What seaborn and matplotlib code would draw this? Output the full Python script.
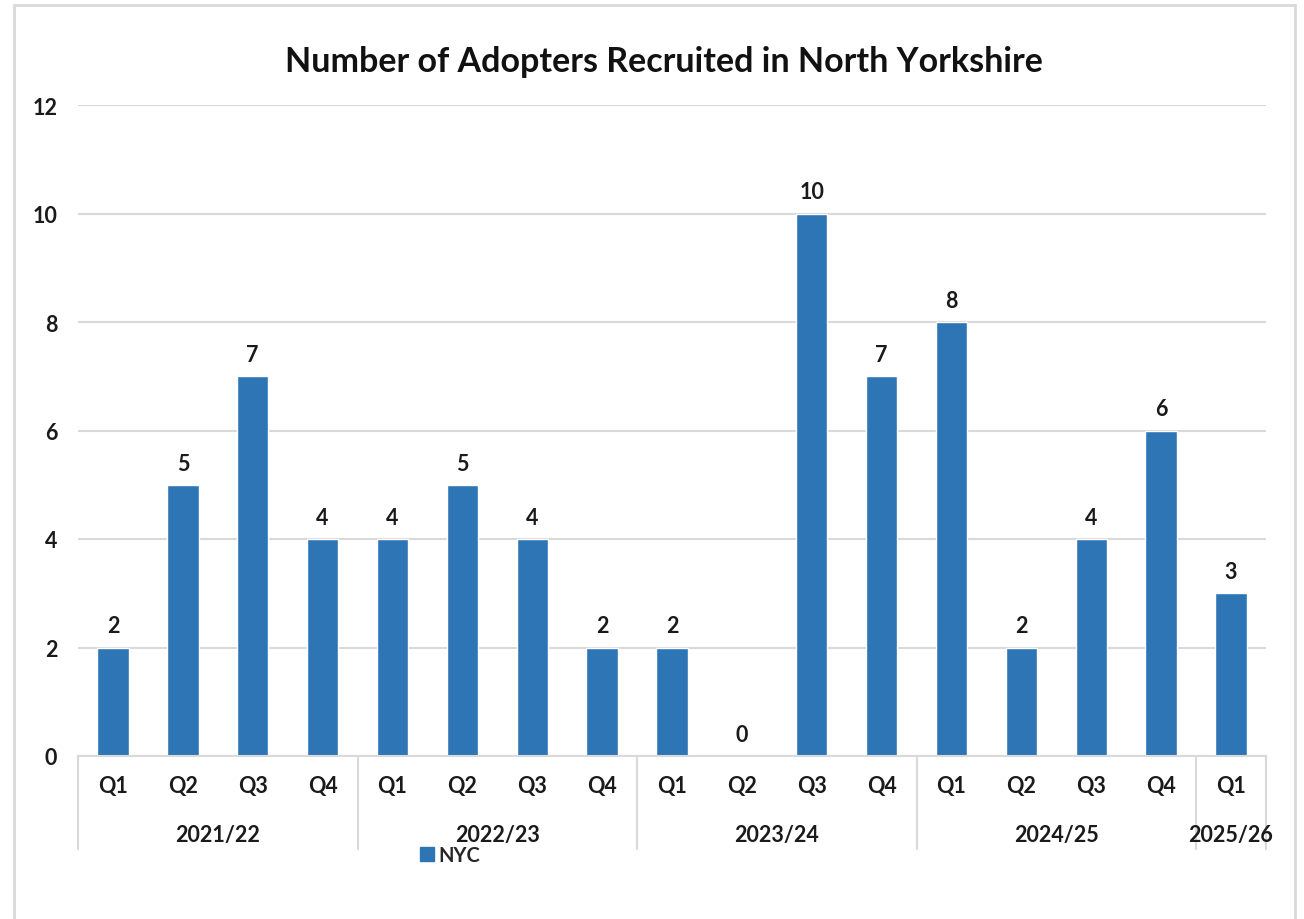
import pandas as pd
import matplotlib.pyplot as plt
import seaborn as sns
from matplotlib.patches import Rectangle, Patch
from matplotlib.transforms import blended_transform_factory

# data
years = ['2021/22', '2022/23', '2023/24', '2024/25', '2025/26']
quarters_per_year = [4, 4, 4, 4, 1]
quarters = ['Q1', 'Q2', 'Q3', 'Q4'] * 4 + ['Q1']
adopters = [2, 5, 7, 4, 4, 5, 4, 2, 2, 0, 10, 7, 8, 2, 4, 6, 3]

periods = []
for y, n in zip(years, quarters_per_year):
    for q in ['Q1', 'Q2', 'Q3', 'Q4'][:n]:
        periods.append(f'{y} {q}')

df = pd.DataFrame({'period': periods, 'quarter': quarters, 'NYC': adopters})

sns.set_style('white')
plt.rcParams['font.family'] = ['Lato', 'DejaVu Sans']
plt.rcParams['font.weight'] = 'bold'

bar_color = '#2E75B6'
grid_color = '#D9D9D9'
text_color = '#1a1a1a'
fs = 15.5

fig = plt.figure(figsize=(13.04, 9.2), dpi=100)
ax = fig.add_axes([78 / 1304, 1 - 757 / 920, (1266 - 78) / 1304, (757 - 106) / 920])

sns.barplot(data=df, x='period', y='NYC', order=periods, color=bar_color,
            width=0.45, saturation=1, ax=ax)

ax.set_ylim(0, 12)
ax.set_xlim(-0.5, len(periods) - 0.5)
ax.set_yticks(range(0, 13, 2))
ax.yaxis.grid(True, color=grid_color, linewidth=1.5)
ax.set_axisbelow(True)
for s in ['top', 'right', 'left']:
    ax.spines[s].set_visible(False)
ax.spines['bottom'].set_color(grid_color)
ax.spines['bottom'].set_linewidth(1.5)

ax.set_xlabel('')
ax.set_ylabel('')
ax.set_xticks(range(len(periods)))
ax.set_xticklabels(quarters)
ax.tick_params(axis='x', length=0, pad=14, labelsize=fs, labelcolor=text_color)
ax.tick_params(axis='y', length=0, pad=15, labelsize=fs, labelcolor=text_color)
for lbl in ax.get_xticklabels() + ax.get_yticklabels():
    lbl.set_fontweight('bold')

ax.bar_label(ax.containers[0], padding=8, fontsize=fs, fontweight='bold', color=text_color)

# year grouping lines and labels under the quarter ticks
trans = blended_transform_factory(ax.transData, ax.transAxes)
edges = [-0.5]
for n in quarters_per_year:
    edges.append(edges[-1] + n)
for x in edges:
    ax.plot([x, x], [0, -0.143], color=grid_color, lw=1.5, transform=trans, clip_on=False)
for y, a, b in zip(years, edges[:-1], edges[1:]):
    ax.text((a + b) / 2, -0.121, y, transform=trans, ha='center', va='center',
            fontsize=fs, fontweight='bold', color=text_color)

fig.text(664 / 1304, 1 - 62 / 920, 'Number of Adopters Recruited in North Yorkshire',
         ha='center', va='center', fontsize=24.5, fontweight='bold', color='#111111')

fig.legend(handles=[Patch(color=bar_color, label='NYC')], loc='center',
           bbox_to_anchor=(450 / 1304, 1 - 856 / 920), frameon=False,
           handlelength=0.7, handleheight=0.7, handletextpad=0.2,
           prop={'weight': 'bold', 'size': 14.5})

# chart area border
fig.patches.append(Rectangle((14 / 1304, -0.05), (1295 - 14) / 1304, 1.05 - 6 / 920,
                             transform=fig.transFigure, fill=False,
                             edgecolor='#D9D9D9', linewidth=2))

fig.savefig('out.png', dpi=100)
